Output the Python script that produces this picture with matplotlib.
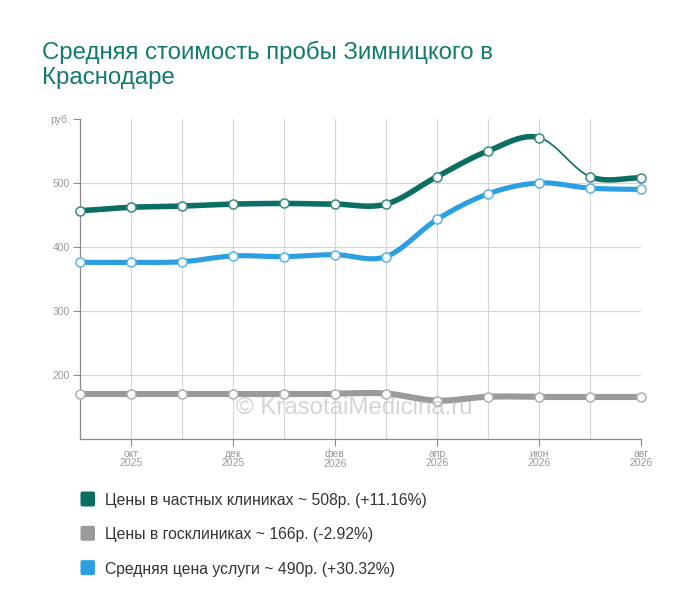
import numpy as np
import matplotlib.pyplot as plt
from matplotlib.patches import FancyBboxPatch

plt.rcParams['font.family'] = ['Liberation Sans', 'DejaVu Sans']

# данные
months = ["сен\n2025", "окт\n2025", "ноя\n2025", "дек\n2025", "янв\n2026", "фев\n2026",
          "мар\n2026", "апр\n2026", "май\n2026", "июн\n2026", "июл\n2026", "авг\n2026"]
private = [457, 462, 464, 467, 468, 467, 467, 510, 550, 571, 510, 508]
public = [171, 171, 171, 171, 171, 171, 171, 160, 166, 166, 166, 166]
average = [376, 376, 377, 386, 385, 388, 385, 443, 483, 500, 492, 490]
yticks = [200, 300, 400, 500]
legend_labels = ["Цены в частных клиниках ~ 508р. (+11.16%)",
                 "Цены в госклиниках ~ 166р. (-2.92%)",
                 "Средняя цена услуги ~ 490р. (+30.32%)"]

GREEN = '#0b6e63'
GREY = '#9a9a9a'
BLUE = '#2b9fe0'


def smooth(y, n=24):
    # кривая Катмулла-Рома через точки
    y = np.asarray(y, dtype=float)
    p = np.concatenate([[y[0]], y, [y[-1]]])
    xs, ys = [], []
    t = np.linspace(0, 1, n)
    for i in range(len(y) - 1):
        p0, p1, p2, p3 = p[i], p[i+1], p[i+2], p[i+3]
        seg = 0.5*((2*p1) + (-p0+p2)*t + (2*p0-5*p1+4*p2-p3)*t**2 + (-p0+3*p1-3*p2+p3)*t**3)
        xs.append(i + t)
        ys.append(seg)
    return xs, ys


W, H = 700, 616
fig = plt.figure(figsize=(W/100, H/100), dpi=100)
ax = fig.add_axes([80/W, 1-439/H, 561/W, 320/H])
ax.set_xlim(0, len(months)-1)
ax.set_ylim(100, 600)

for i in range(1, len(months)-1):
    ax.axvline(i, color='#d6d6d6', lw=0.8, zorder=0)
ax.hlines(yticks, 0, len(months)-1, color='#d6d6d6', lw=0.8, zorder=0)

for s in ['top', 'right']:
    ax.spines[s].set_visible(False)
for s in ['left', 'bottom']:
    ax.spines[s].set_color('#8a8a8a')
    ax.spines[s].set_linewidth(0.9)

ax.set_yticks(yticks + [600])
ax.set_yticklabels([str(v) for v in yticks] + ['руб.'])
ax.set_xticks(range(1, len(months), 2))
ax.set_xticklabels(months[1::2], linespacing=0.95)
ax.tick_params(colors='#8a8a8a', labelcolor='#999999', labelsize=7.5, length=5, width=0.8)
ax.tick_params(axis='x', pad=2)
ax.tick_params(axis='y', pad=2)

series = [(private, GREEN, 4.0, '#3a8a80', [9]),
          (public, GREY, 4.4, '#b0b0b0', []),
          (average, BLUE, 3.7, '#5ab4e6', [])]
for vals, col, lw, mcol, thin in series:
    xs, ys = smooth(vals)
    for k in range(len(xs)):
        w = 1.2 if k in thin else lw
        ax.plot(xs[k], ys[k], color=col, lw=w, solid_capstyle='round', zorder=3)
    ax.plot(range(len(vals)), vals, 'o', ms=6.5, mfc='white', mec=mcol, mew=1.1,
            zorder=4, clip_on=False)

fig.text(354/W, 1-408/H, '© KrasotaiMedicina.ru', fontsize=17.3, color='#b8b8b8',
         alpha=0.6, ha='center', va='center', zorder=10)

title_col = '#137a6e'
fig.text(42/W, 1-58.5/H, 'Средняя стоимость пробы Зимницкого в', fontsize=17.3,
         color=title_col, va='baseline')
fig.text(42/W, 1-84/H, 'Краснодаре', fontsize=17.3, color=title_col, va='baseline')

for j, (lab, col) in enumerate(zip(legend_labels, [GREEN, GREY, BLUE])):
    cy = 499 + j*34.3
    fig.patches.append(FancyBboxPatch((80.5/W, 1-(cy+7.5)/H), 14.5/W, 15/H,
                                      boxstyle='round,pad=0,rounding_size=0.003',
                                      transform=fig.transFigure, fc=col, ec='none'))
    fig.text(105/W, 1-(cy+6)/H, lab, fontsize=11.3, color='#333333', va='baseline')

fig.savefig('out.png', dpi=100)
